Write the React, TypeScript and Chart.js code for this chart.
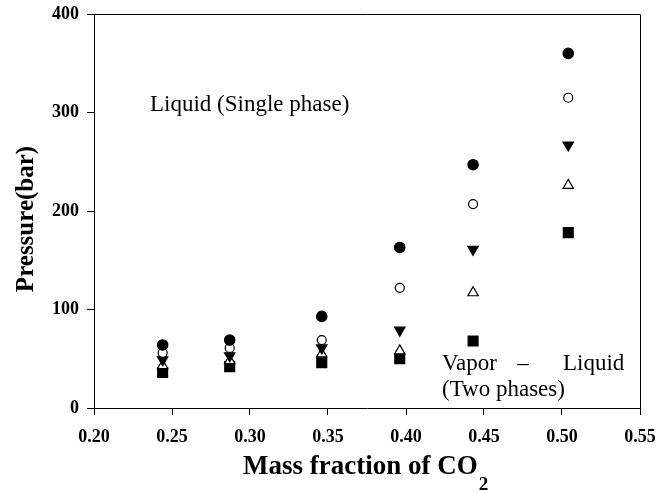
import React, { useEffect, useRef } from 'react';
import { Chart, registerables } from 'chart.js';

Chart.register(...registerables);

// Mass fraction of CO2 (x) for each measured column
const massFraction = [0.244, 0.287, 0.346, 0.396, 0.443, 0.504];
// Pressures (bar) for each of the five marker series
const filledCircle = [64, 69, 93, 163, 247, 360];
const openCircle = [56, 61, 69, 122, 207, 315];
const filledTriDown = [49, 53, 61, 79, 161, 267];
const openTriUp = [43, 48, 55, 58, 117, 226];
const filledSquare = [36, 42, 46, 50, 68, 178];

const xTickValues = [0.2, 0.25, 0.3, 0.35, 0.4, 0.45, 0.5, 0.55];
const yTickValues = [0, 100, 200, 300, 400];

const SERIF = "'Liberation Serif', 'Times New Roman', serif";

const toPoints = (ys: number[]) => massFraction.map((x, i) => ({ x, y: ys[i] }));

const decorPlugin = {
  id: 'decor',
  afterDraw(chart: any) {
    const { ctx, chartArea } = chart;
    ctx.save();
    // frame
    ctx.strokeStyle = '#000';
    ctx.lineWidth = 1;
    const l = Math.round(chartArea.left) + 0.5;
    const t = Math.round(chartArea.top) + 0.5;
    const r = Math.round(chartArea.right) + 0.5;
    const b = Math.round(chartArea.bottom) + 0.5;
    ctx.beginPath();
    ctx.moveTo(l, t);
    ctx.lineTo(r, t);
    ctx.lineTo(r, b);
    ctx.stroke();

    ctx.fillStyle = '#000';
    // y title
    ctx.save();
    ctx.translate(33, 219);
    ctx.rotate(-Math.PI / 2);
    ctx.font = `bold 25px ${SERIF}`;
    ctx.textAlign = 'center';
    ctx.textBaseline = 'alphabetic';
    ctx.fillText('Pressure(bar)', 0, 0);
    ctx.restore();

    // x title with subscript
    ctx.textAlign = 'left';
    ctx.textBaseline = 'alphabetic';
    ctx.font = `bold 27px ${SERIF}`;
    const main = 'Mass fraction of CO';
    ctx.fillText(main, 243, 474);
    const w = ctx.measureText(main).width;
    ctx.font = `bold 19px ${SERIF}`;
    ctx.fillText('2', 244 + w, 490);

    // region annotations
    ctx.font = `23px ${SERIF}`;
    ctx.fillText('Liquid (Single phase)', 150, 111);
    ctx.fillText('Vapor', 442, 370);
    ctx.textAlign = 'center';
    ctx.fillText('\u2013', 523, 370);
    ctx.textAlign = 'left';
    ctx.fillText('Liquid', 563, 370);
    ctx.fillText('(Two phases)', 442, 396);
    ctx.restore();
  },
};

export default function App() {
  const canvasRef = useRef<HTMLCanvasElement | null>(null);

  useEffect(() => {
    document.body.style.margin = '0';
    const canvas = canvasRef.current;
    if (!canvas) return;
    const common = { showLine: false, borderColor: '#000', borderWidth: 1.2 };
    const chart = new Chart(canvas, {
      type: 'scatter',
      data: {
        datasets: [
          { ...common, label: 'filled circle', data: toPoints(filledCircle), pointStyle: 'circle', pointRadius: 5.2, backgroundColor: '#000' },
          { ...common, label: 'open circle', data: toPoints(openCircle), pointStyle: 'circle', pointRadius: 4.5, backgroundColor: '#fff' },
          { ...common, label: 'filled triangle down', data: toPoints(filledTriDown), pointStyle: 'triangle', pointRotation: 180, pointRadius: 6, backgroundColor: '#000' },
          { ...common, label: 'open triangle up', data: toPoints(openTriUp), pointStyle: 'triangle', pointRadius: 6, backgroundColor: '#fff' },
          { ...common, label: 'filled square', data: toPoints(filledSquare), pointStyle: 'rect', pointRadius: 7, backgroundColor: '#000' },
        ],
      },
      options: {
        responsive: false,
        animation: false,
        devicePixelRatio: 1,
        layout: { padding: { top: 14, right: 31, left: 0, bottom: 0 } },
        plugins: {
          legend: { display: false },
          tooltip: { enabled: false },
          title: { display: false },
        },
        scales: {
          x: {
            type: 'linear',
            min: 0.2,
            max: 0.55,
            afterBuildTicks: (scale: any) => {
              scale.ticks = xTickValues.map((v) => ({ value: v }));
            },
            afterFit: (scale: any) => {
              scale.height = 85;
              scale.paddingLeft = 0;
              scale.paddingRight = 0;
            },
            ticks: {
              color: '#000',
              padding: 12,
              font: { family: SERIF, size: 18, weight: 'bold' },
              callback: (v: any) => Number(v).toFixed(2),
              maxRotation: 0,
              autoSkip: false,
            },
            grid: { drawOnChartArea: false, drawTicks: true, tickLength: 7, color: '#000', lineWidth: 1 },
            border: { color: '#000', width: 1 },
          },
          y: {
            type: 'linear',
            min: 0,
            max: 400,
            afterBuildTicks: (scale: any) => {
              scale.ticks = yTickValues.map((v) => ({ value: v }));
            },
            afterFit: (scale: any) => {
              scale.width = 94;
              scale.paddingTop = 0;
              scale.paddingBottom = 0;
            },
            ticks: {
              color: '#000',
              padding: 8,
              font: { family: SERIF, size: 18, weight: 'bold' },
              autoSkip: false,
            },
            grid: { drawOnChartArea: false, drawTicks: true, tickLength: 7, color: '#000', lineWidth: 1 },
            border: { color: '#000', width: 1 },
          },
        },
      },
      plugins: [decorPlugin],
    } as any);
    return () => chart.destroy();
  }, []);

  return (
    <div style={{ position: 'absolute', left: 0, top: 0, width: 671, height: 493, background: '#fff' }}>
      <canvas ref={canvasRef} width={671} height={493} style={{ width: 671, height: 493, display: 'block' }} />
    </div>
  );
}
